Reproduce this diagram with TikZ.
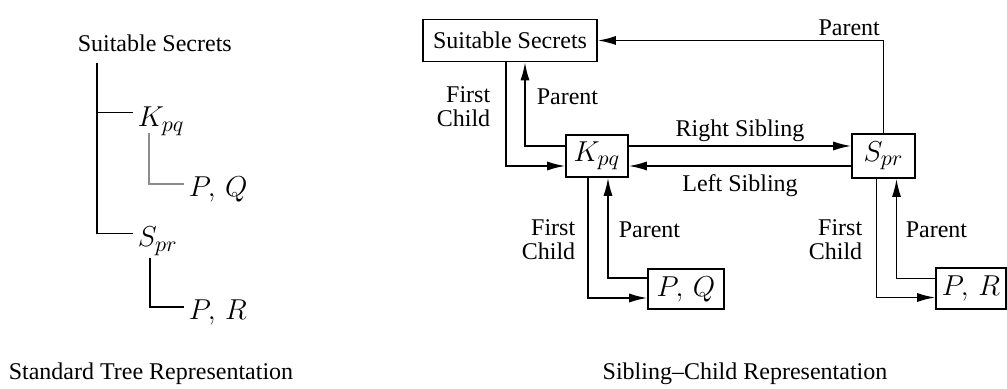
\documentclass[tikz,border=0pt]{standalone}
\usepackage{fontspec}
\setmainfont{Liberation Serif}
\DeclareMathSizes{13.5}{13.5}{10.5}{7.5}
\usetikzlibrary{arrows.meta,positioning,calc}
\tikzset{
block/.style = {draw, fill=white, rectangle, inner sep=0pt, minimum height=21pt},
txt/.style   = {inner sep=2pt},
sym/.style   = {font=\fontsize{13.5}{13.5}\selectfont},
tmp/.style   = {coordinate},
faint/.style = {draw=black!45}
}

\begin{document}
\begin{tikzpicture}[x=0.5pt, y=-0.5pt, line width=0.8pt, >={Latex[length=9pt,width=4.5pt]},
                    font=\fontsize{12}{12}\selectfont]
  \useasboundingbox (0,0) rectangle (1007,389);

  % standard tree
  \node [txt, anchor=base west]      (lss) at (73,52)   {Suitable Secrets};
  \node [txt, sym, anchor=base west] (lk)  at (133,127) {$K_{pq}$};
  \node [txt, sym, anchor=base west] (lpq) at (184,197) {$P,\,Q$};
  \node [txt, sym, anchor=base west] (ls)  at (133,247) {$S_{pr}$};
  \node [txt, sym, anchor=base west] (lpr) at (184,320) {$P,\,R$};
  \node [tmp] (trunk) at (97,63)  {};
  \node [tmp] (kfoot) at (149,133) {};
  \node [tmp] (sfoot) at (150,258) {};

  \draw (trunk) |- ([yshift=4.5pt]lk.west);
  \draw (trunk) |- ([yshift=4pt]ls.west);
  \draw [faint] (kfoot) |- ([yshift=3pt]lpq.west);
  \draw (sfoot) |- ([yshift=3pt]lpr.west);

  % sibling-child boxes
  \node [block, minimum width=87pt]                             (ss)  at (510,40.5) {Suitable Secrets};
  \node [block, sym, minimum width=31pt]                        (kpq) at (597,156)  {$K_{pq}$};
  \node [block, sym, minimum width=31.5pt, minimum height=22pt] (spr) at (883.5,156) {$S_{pr}$};
  \node [block, sym, minimum width=38pt, minimum height=20pt]   (pq)  at (686,289)  {$P,\,Q$};
  \node [block, sym, minimum width=35pt, minimum height=20.5pt] (pr)  at (971,288.5) {$P,\,R$};

  \draw [->] ([xshift=-2pt]ss.south) |- ([yshift=-5pt]kpq.west);
  \draw [->] ([yshift=5pt]kpq.west) -| ([xshift=7.5pt]ss.south);
  \draw [->] ([yshift=5pt]kpq.east) -- node [txt, above] (rs) {Right Sibling} ([yshift=5pt]spr.west);
  \draw [->] ([yshift=-5pt]spr.west) -- node [txt, below, yshift=-2pt] (lsib) {Left Sibling} ([yshift=-5pt]kpq.east);
  \draw [->] (spr.north) |- node [txt, pos=0.56, above] (pa0) {Parent} (ss.east);

  \draw [->] ([xshift=-4.5pt]kpq.south) |- ([yshift=-4.5pt]pq.west);
  \draw [->] ([yshift=5.5pt]pq.west) -| ([xshift=5.5pt]kpq.south);
  \draw [->] ([xshift=-3.5pt]spr.south) |- ([yshift=-4.5pt]pr.west);
  \draw [->] ([yshift=5pt]pr.west) -| ([xshift=6.5pt]spr.south);

  \node [txt, anchor=east, align=right] (fc1) at (495,107) {First\\Child};
  \node [txt, anchor=west]              (pa1) at (532,97)  {Parent};
  \node [txt, anchor=east, align=right] (fc2) at (580,240) {First\\Child};
  \node [txt, anchor=west]              (pa2) at (614,230) {Parent};
  \node [txt, anchor=east, align=right] (fc3) at (867,240) {First\\Child};
  \node [txt, anchor=west]              (pa3) at (901,230) {Parent};

  % captions
  \node [txt, anchor=base west] (ttree) at (4,380)  {Standard Tree Representation};
  \node [txt, anchor=base]      (tsib)  at (745,380) {Sibling--Child Representation};
\end{tikzpicture}
\end{document}
